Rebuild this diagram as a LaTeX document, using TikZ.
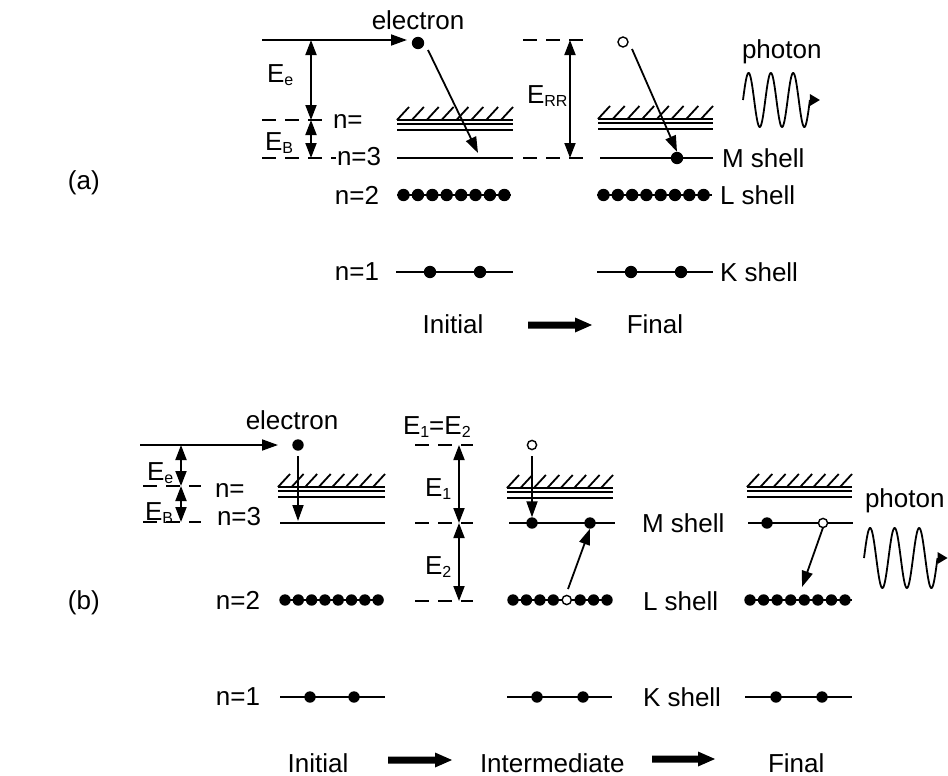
\documentclass[tikz,border=0pt]{standalone}
\usepackage{fontspec}
\setmainfont{Liberation Sans}
\usetikzlibrary{arrows.meta}
\newcommand\lbfont{\fontsize{13}{15}\selectfont}
\newcommand\sbs[1]{\raisebox{-1.6pt}{\fontsize{8}{9}\selectfont #1}}
% hatched continuum: x1, x2, y of first line
\newcommand\hatchbox[3]{%
  \pgfmathsetmacro\hstep{(#2-#1-12)/7}%
  \foreach \i in {0,...,7}{\draw[lev] ({#1+\i*\hstep},#3) -- ++(12,-13);}%
  \draw[lev] (#1,#3) -- (#2,#3);
  \draw[lev] (#1,#3+4) -- (#2,#3+4);
  \draw[lev] (#1,#3+10) -- (#2,#3+10);
}
% thick process arrow: x1, x2, y
\newcommand\bigarrow[3]{%
  \fill (#1,#3-3.5) -- (#2-17,#3-3.5) -- (#2-17,#3-7.5) -- (#2,#3)
        -- (#2-17,#3+7.5) -- (#2-17,#3+3.5) -- (#1,#3+3.5) -- cycle;
}
% photon wave: x0, period, centre y, amplitude
\newcommand\photonwave[4]{%
  \pgfmathsetmacro\wk{360/#2}%
  \draw[lev, domain=0:3*#2, samples=150, variable=\t, smooth]
    plot ({#1+\t},{#3-#4*sin(\wk*\t)});
  \fill (#1+3*#2,#3-6) -- (#1+3*#2+10,#3) -- (#1+3*#2,#3+6) -- cycle;
}
\tikzset{
  lbl/.style={inner sep=0pt, outer sep=0pt, font=\lbfont},
  dotf/.style={circle, fill=black, inner sep=0pt, outer sep=0pt, minimum size=6.2pt},
  dotb/.style={circle, fill=black, inner sep=0pt, outer sep=0pt, minimum size=5.7pt},
  doto/.style={circle, draw=black, fill=white, line width=0.7pt, inner sep=0pt, outer sep=0pt, minimum size=4.6pt},
  lev/.style={line width=0.9pt},
  dsh/.style={line width=0.9pt, dash pattern=on 7pt off 4.5pt},
  arr/.style={line width=0.9pt, -{Triangle[length=8pt,width=5.5pt]}},
  darr/.style={line width=0.9pt, {Triangle[length=7.5pt,width=5.5pt]}-{Triangle[length=7.5pt,width=5.5pt]}},
}
\begin{document}
\begin{tikzpicture}[x=0.5pt,y=-0.5pt]
\useasboundingbox (0,0) rectangle (948,776);

%================ (a) =================
\node[lbl, anchor=west] (la) at (68,183) {(a)};

% incoming electron
\coordinate (a0) at (262,40);
\coordinate (a1) at (407,40);
\draw[arr] (a0) -- (a1);
\node[dotf] (ea) at (418,43) {};
\node[lbl, anchor=base] (tea) at (418,29) {electron};

% energies
\draw[dsh] (262,120) -- (330,120);
\draw[dsh] (262,158) -- (336,158);
\coordinate (ae1) at (311,40);
\coordinate (ae2) at (311,120);
\coordinate (ae3) at (311,158);
\draw[darr] (ae1) -- (ae2);
\draw[darr] (ae2) -- (ae3);
\node[lbl, anchor=base west] (tEe) at (267,82) {E\sbs{e}};
\node[lbl, anchor=base west] (tEB) at (265,150) {E\sbs{B}};
\node[lbl, anchor=base west] (tninf) at (333,128) {n=};
\node[lbl, anchor=base west] (tn3a) at (337,165) {n=3};

% initial column
\hatchbox{397}{513}{120}
\draw[lev] (397,158) -- (513,158);
\coordinate (ai1) at (428,50);
\coordinate (ai2) at (478,153);
\draw[arr] (ai1) -- (ai2);

\draw[lev] (397,195) -- (511,195);
\foreach \i in {0,...,7}{\node[dotf] (aL\i) at (403.5+\i*14.4,195) {};}
\node[lbl, anchor=east] (tn2a) at (379,195) {n=2};

\draw[lev] (396,272) -- (513,272);
\node[dotf] (aK1) at (430,272) {};
\node[dotf] (aK2) at (480,272) {};
\node[lbl, anchor=east] (tn1a) at (379,272) {n=1};

% E_RR
\draw[dsh] (523,40) -- (592,40);
\draw[dsh] (523,158) -- (592,158);
\coordinate (ar1) at (570,40);
\coordinate (ar2) at (570,158);
\draw[darr] (ar1) -- (ar2);
\node[lbl, anchor=base west] (tERR) at (527,103) {E\sbs{RR}};

% final column
\hatchbox{598}{713}{119}
\draw[lev] (600,158) -- (713,158);
\node[doto, minimum size=5pt] (ho) at (623,42) {};
\node[dotf] (fM) at (677,158) {};
\coordinate (af1) at (632,49);
\draw[arr] (af1) -- (fM.north);
\node[lbl, anchor=west] (tMa) at (722,158) {M shell};

\draw[lev] (597,195) -- (712,195);
\foreach \i in {0,...,7}{\node[dotf] (fL\i) at (603.5+\i*14.3,195) {};}
\node[lbl, anchor=west] (tLa) at (720,195) {L shell};

\draw[lev] (597,272) -- (713,272);
\node[dotf] (fK1) at (631,272) {};
\node[dotf] (fK2) at (681,272) {};
\node[lbl, anchor=west] (tKa) at (720,272) {K shell};

% photon
\node[lbl, anchor=base west] (tpa) at (742,58) {photon};
\photonwave{743}{22.3}{100}{27}

% process
\node[lbl, anchor=base] (tIa) at (453,333) {Initial};
\bigarrow{528}{592}{325}
\node[lbl, anchor=base] (tFa) at (655,333) {Final};

%================ (b) =================
\node[lbl, anchor=west] (lb) at (68,603) {(b)};

\coordinate (b0) at (140,445);
\coordinate (b1) at (278,445);
\draw[arr] (b0) -- (b1);
\node[dotb] (eb) at (298,445) {};
\node[lbl, anchor=base] (teb) at (292,429) {electron};

\draw[dsh] (143,486) -- (201,486);
\draw[dsh] (143,522) -- (201,522);
\coordinate (be1) at (181,445);
\coordinate (be2) at (181,486);
\coordinate (be3) at (181,522);
\draw[darr] (be1) -- (be2);
\draw[darr] (be2) -- (be3);
\node[lbl, anchor=base west] (tEeb) at (147,480) {E\sbs{e}};
\node[lbl, anchor=base west] (tEBb) at (145,520) {E\sbs{B}};
\node[lbl, anchor=base west] (tninfb) at (215,497) {n=};
\node[lbl, anchor=base west] (tn3b) at (217,525) {n=3};

% initial column
\hatchbox{278}{385}{487}
\draw[lev] (280,523) -- (385,523);
\coordinate (bi1) at (298,456);
\coordinate (bi2) at (298,521);
\draw[arr] (bi1) -- (bi2);

\draw[lev] (280,600) -- (382,600);
\foreach \i in {0,...,7}{\node[dotb] (bL\i) at (285+\i*13.3,600) {};}
\node[lbl, anchor=east] (tn2b) at (260,600) {n=2};

\draw[lev] (280,697) -- (385,697);
\node[dotb] (bK1) at (310,697) {};
\node[dotb] (bK2) at (354,697) {};
\node[lbl, anchor=east] (tn1b) at (260,697) {n=1};

% E1 / E2
\node[lbl, anchor=base west] (tE12) at (403,434) {E\sbs{1}=E\sbs{2}};
\draw[dsh] (415,445) -- (473,445);
\draw[dsh] (415,523) -- (473,523);
\draw[dsh] (415,601) -- (473,601);
\coordinate (m1) at (459,445);
\coordinate (m2) at (459,523);
\coordinate (m3) at (459,601);
\draw[darr] (m1) -- (m2);
\draw[darr] (m2) -- (m3);
\node[lbl, anchor=base west] (tE1) at (425,496) {E\sbs{1}};
\node[lbl, anchor=base west] (tE2) at (425,574) {E\sbs{2}};

% intermediate column
\hatchbox{507}{613}{488}
\draw[lev] (509,523) -- (615,523);
\node[doto] (mo) at (532,445) {};
\node[dotb] (mM1) at (532,523) {};
\node[dotb] (mM2) at (590,523) {};
\coordinate (mi1) at (532,456);
\draw[arr] (mi1) -- (mM1.north);
\draw[lev] (509,600) -- (612,600);
\foreach \i in {0,1,2,3,5,6,7}{\node[dotb] (mL\i) at (513+\i*13.43,600) {};}
\node[doto] (mL4) at (513+4*13.43,600) {};
\coordinate (ml1) at (568,589);
\draw[arr] (ml1) -- (mM2.south);
\draw[lev] (507,697) -- (612,697);
\node[dotb] (mK1) at (537,697) {};
\node[dotb] (mK2) at (583,697) {};

\node[lbl, anchor=west] (tMb) at (642,523) {M shell};
\node[lbl, anchor=west] (tLb) at (643,601) {L shell};
\node[lbl, anchor=west] (tKb) at (643,697) {K shell};

% final column
\hatchbox{747}{852}{487}
\draw[lev] (748,523) -- (853,523);
\node[dotb] (gM1) at (767,523) {};
\node[doto] (gM2) at (823,523) {};
\coordinate (gl2) at (802,587);
\draw[arr] (gM2.south) -- (gl2);
\draw[lev] (747,600) -- (852,600);
\foreach \i in {0,...,7}{\node[dotb] (gL\i) at (750+\i*13.57,600) {};}
\draw[lev] (745,697) -- (852,697);
\node[dotb] (gK1) at (776,697) {};
\node[dotb] (gK2) at (822,697) {};

\node[lbl, anchor=base west] (tpb) at (865,507) {photon};
\photonwave{864}{24.5}{558}{30}

% process
\node[lbl, anchor=base] (tIb) at (318,772) {Initial};
\bigarrow{388}{452}{760}
\node[lbl, anchor=base west] (tMid) at (480,772) {Intermediate};
\bigarrow{652}{715}{759}
\node[lbl, anchor=base west] (tFb) at (768,772) {Final};
\end{tikzpicture}
\end{document}
